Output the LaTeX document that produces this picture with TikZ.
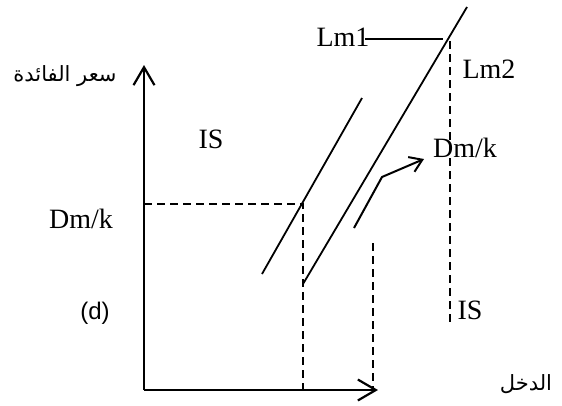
\documentclass[tikz,border=0pt]{standalone}
\usepackage{fontspec}
\setmainfont{Liberation Serif}
\newfontfamily\arabicfont[Script=Arabic]{DejaVu Sans}
\newfontfamily\sansfont{Liberation Sans}
\TeXXeTstate=1
\usetikzlibrary{arrows.meta,positioning}

\begin{document}
\begin{tikzpicture}[
  x=1pt, y=-1pt,
  axis/.style={line width=2.2pt, -{Straight Barb[length=18pt,width=21pt,line width=2.2pt]}},
  curve/.style={line width=1.8pt},
  guide/.style={line width=1.7pt, dash pattern=on 8pt off 5pt},
  shiftarrow/.style={line width=2pt, -{Straight Barb[length=12pt,width=16pt,line width=2pt]}},
  lbl/.style={font=\fontsize{28}{30}\selectfont, inner sep=0pt},
  arlbl/.style={font=\arabicfont\fontsize{21}{24}\selectfont, inner sep=0pt}
]
  \useasboundingbox (0,0) rectangle (562,405);

  % Axes
  \coordinate (origin) at (144,390);
  \coordinate (ytip) at (144,65);
  \coordinate (xtip) at (378,390);
  \draw[axis] (origin) -- (ytip);
  \draw[axis] (origin) -- (xtip);
  \node[arlbl] (rate) at (65,76) {\beginR سعر الفائدة\endR};
  \node[arlbl] (income) at (526,384) {\beginR الدخل\endR};

  % Guide lines
  \coordinate (dmk) at (144,204);
  \coordinate (eq) at (303,204);
  \coordinate (eqfoot) at (303,390);
  \draw[guide] (dmk) -- (eq) -- (eqfoot);
  \coordinate (midtop) at (373,243);
  \coordinate (midfoot) at (373,390);
  \draw[guide] (midtop) -- (midfoot);
  \coordinate (lmtop) at (450,41);
  \coordinate (lmfoot) at (450,323);
  \draw[guide] (lmtop) -- (lmfoot);

  % Curves
  \coordinate (isa) at (262,274);
  \coordinate (isb) at (362,98);
  \draw[curve] (isa) -- (isb);
  \coordinate (lma) at (303,284);
  \coordinate (lmb) at (467,7);
  \draw[curve] (lma) -- (lmb);
  \coordinate (lmstart) at (365,39);
  \coordinate (lmend) at (443,39);
  \draw[curve] (lmstart) -- (lmend);

  % Shift arrow
  \coordinate (sa) at (354,228);
  \coordinate (sb) at (382,177);
  \coordinate (sc) at (424,159);
  \draw[shiftarrow] (sa) -- (sb) -- (sc);

  % Labels
  \node[lbl] (lmone) at (343,37) {Lm1};
  \node[lbl] (lmtwo) at (489,69) {Lm2};
  \node[lbl] (dmkright) at (465,148) {Dm/k};
  \node[lbl] (dmkleft) at (81,219) {Dm/k};
  \node[lbl] (isleft) at (211,139) {IS};
  \node[lbl] (isright) at (470,310) {IS};
  \node[font=\sansfont\fontsize{24}{28}\selectfont, inner sep=0pt] (dlbl) at (95,313) {(d)};
\end{tikzpicture}
\end{document}
